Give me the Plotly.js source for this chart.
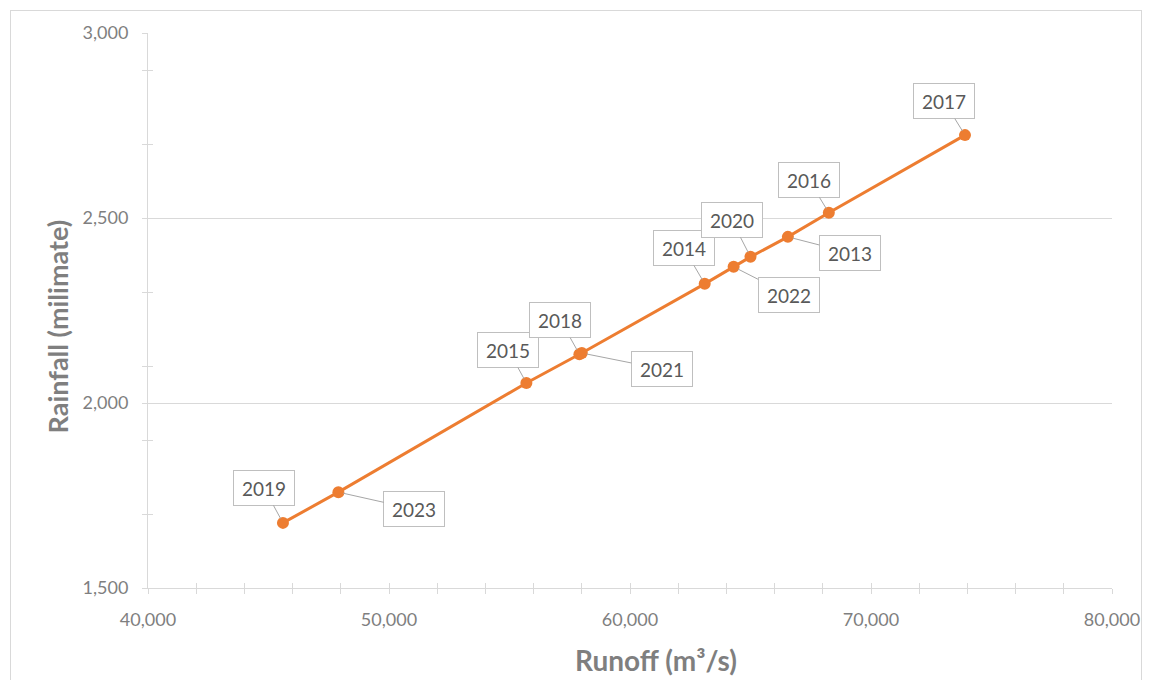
<!DOCTYPE html>
<html>
<head>
<meta charset="utf-8">
<script src="https://cdn.plot.ly/plotly-3.0.1.min.js"></script>
<style>
  html, body { margin: 0; padding: 0; background: #ffffff; }
  #wrap { position: relative; width: 1152px; height: 680px; overflow: hidden; }
  #chart { position: absolute; left: 0; top: 0; width: 1152px; height: 680px; }
  #frame { position: absolute; left: 10px; top: 10px; width: 1130px; height: 700px;
           border: 1px solid #d9d9d9; pointer-events: none; }
</style>
</head>
<body>
<div id="wrap">
  <div id="chart"></div>
  <div id="frame"></div>
</div>
<script>
// Annual runoff vs rainfall, listed in order of runoff
const years    = ['2019', '2023', '2015', '2018', '2021', '2014', '2022', '2020', '2013', '2016', '2017'];
const runoff   = [45600, 47900, 55700, 57900, 58000, 63100, 64300, 65000, 66550, 68250, 73900];
const rainfall = [1676, 1759, 2054, 2132, 2135, 2322, 2368, 2395, 2449, 2514, 2724];

const xTicks = [40000, 50000, 60000, 70000, 80000];
const yTicks = [1500, 2000, 2500, 3000];

// Where each year's callout box sits relative to its point (pixels)
const calloutOffset = {
  '2019': [-19, -35], '2023': [76, 17], '2015': [-18, -33], '2018': [-19, -34],
  '2021': [80, 16],  '2014': [-21, -36], '2022': [55, 28],  '2020': [-19, -37],
  '2013': [62, 16],  '2016': [-20, -33], '2017': [-21, -34]
};

const ORANGE = '#ED7D31';
const AXIS = '#d9d9d9';
const FONT = 'Lato, "Liberation Sans", sans-serif';

const series = {
  type: 'scatter',
  mode: 'lines+markers',
  x: runoff,
  y: rainfall,
  line: { color: ORANGE, width: 3 },
  marker: { color: ORANGE, size: 12 },
  showlegend: false,
  hoverinfo: 'x+y'
};

// Empty companion trace so the overlay axes (inner half of the tick marks) are drawn
const tickOverlay = {
  type: 'scatter', x: [], y: [], xaxis: 'x2', yaxis: 'y2',
  showlegend: false, hoverinfo: 'skip'
};

const xRange = [xTicks[0], xTicks[xTicks.length - 1]];
const yRange = [yTicks[0], yTicks[yTicks.length - 1]];

const callouts = years.map((yr, i) => ({
  x: runoff[i], y: rainfall[i], xref: 'x', yref: 'y',
  text: yr,
  showarrow: true, arrowhead: 0, arrowwidth: 1, arrowcolor: '#a6a6a6',
  ax: calloutOffset[yr][0], ay: calloutOffset[yr][1],
  standoff: 5,
  font: { family: FONT, size: 19, color: '#595959' },
  bgcolor: '#ffffff', bordercolor: '#bfbfbf', borderwidth: 1,
  width: 58, height: 32
}));

// Axis titles
const titleFont = { family: FONT, size: 27, color: '#7f7f7f' };
const xTitle = {
  text: '<b>Runoff (m³/s)</b>',
  xref: 'paper', yref: 'paper', x: 0.527, y: -0.13,
  xanchor: 'center', yanchor: 'middle', showarrow: false,
  font: Object.assign({}, titleFont, { size: 28 })
};
const yTitle = {
  text: '<b>Rainfall (milimate)</b>',
  xref: 'paper', yref: 'paper', x: -0.094, y: 0.472,
  xanchor: 'center', yanchor: 'middle', textangle: -90, showarrow: false,
  font: titleFont
};

const layout = {
  width: 1152, height: 680,
  margin: { l: 148, r: 40, t: 33, b: 92 },
  paper_bgcolor: '#ffffff', plot_bgcolor: '#ffffff',
  font: { family: FONT, color: '#7f7f7f' },
  xaxis: {
    range: xRange, tickvals: xTicks, ticktext: xTicks.map(v => v.toLocaleString('en-US')),
    showgrid: false, zeroline: false,
    showline: true, linecolor: AXIS, linewidth: 1,
    ticks: 'outside', ticklen: 5, tickcolor: AXIS, tickwidth: 1,
    minor: { ticks: 'outside', ticklen: 5, tickcolor: AXIS, tick0: 40000, dtick: 2000, showgrid: false },
    ticklabelstandoff: 10,
    tickfont: { family: FONT, size: 18, color: '#7f7f7f' }
  },
  yaxis: {
    range: yRange, tickvals: yTicks, ticktext: yTicks.map(v => v.toLocaleString('en-US')),
    showgrid: true, gridcolor: AXIS, gridwidth: 1, zeroline: false,
    showline: true, linecolor: AXIS, linewidth: 1,
    ticks: 'outside', ticklen: 5, tickcolor: AXIS, tickwidth: 1,
    minor: { ticks: 'outside', ticklen: 5, tickcolor: AXIS, tick0: 1500, dtick: 200, showgrid: false },
    ticklabelstandoff: 10,
    tickfont: { family: FONT, size: 18, color: '#7f7f7f' }
  },
  xaxis2: {
    overlaying: 'x', anchor: 'y2', side: 'bottom', range: xRange,
    tickvals: xTicks, showticklabels: false, showgrid: false, zeroline: false, showline: false,
    ticks: 'inside', ticklen: 5, tickcolor: AXIS, tickwidth: 1,
    minor: { ticks: 'inside', ticklen: 5, tickcolor: AXIS, tick0: 40000, dtick: 2000, showgrid: false }
  },
  yaxis2: {
    overlaying: 'y', anchor: 'x2', side: 'left', range: yRange,
    tickvals: yTicks, showticklabels: false, showgrid: false, zeroline: false, showline: false,
    ticks: 'inside', ticklen: 5, tickcolor: AXIS, tickwidth: 1,
    minor: { ticks: 'inside', ticklen: 5, tickcolor: AXIS, tick0: 1500, dtick: 200, showgrid: false }
  },
  annotations: callouts.concat([xTitle, yTitle]),
  hovermode: 'closest'
};

Plotly.newPlot('chart', [series, tickOverlay], layout, { displayModeBar: false, staticPlot: true });
</script>
</body>
</html>
